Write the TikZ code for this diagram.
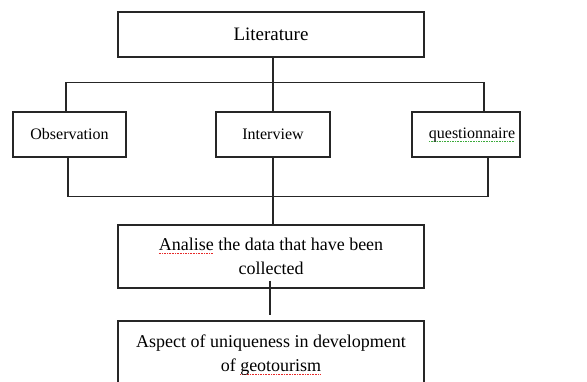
\documentclass[tikz,border=0pt]{standalone}
\usepackage{fontspec}
\setmainfont{Liberation Serif}
\definecolor{squigred}{RGB}{230,40,40}
\definecolor{squiggreen}{RGB}{60,170,60}
\newsavebox\mysqbox
\newcommand\mysq[2]{\sbox\mysqbox{#2}\rlap{\raisebox{-3.5pt}{\textcolor{#1}{\hbox to \wd\mysqbox{\xleaders\hbox{\rule{0.9pt}{0.7pt}\kern0.7pt}\hfill}}}}\usebox\mysqbox}
\begin{document}
\begin{tikzpicture}[x=1pt,y=-1pt,
  box/.style={draw=black!85, line width=1.2pt, inner sep=0pt, align=center},
  link/.style={draw=black!85, line width=1.2pt},
  bigtext/.style={font=\fontsize{18}{24}\selectfont},
  smalltext/.style={font=\fontsize{16}{19}\selectfont}]
\useasboundingbox (0,0) rectangle (587,382);
\node[box, minimum width=306pt, minimum height=45pt, font=\fontsize{19}{23}\selectfont] (lit) at (271,34.5) {Literature};
\node[box, smalltext, minimum width=113pt, minimum height=45pt] (obs) at (69.5,134.5) {Observation};
\node[box, smalltext, minimum width=114pt, minimum height=45pt] (int) at (273,134.5) {Interview};
\node[box, smalltext, minimum width=108pt, minimum height=45pt] (que) at (466,134.5) {\hspace*{12pt}\mysq{squiggreen}{questionnaire}};
\node[box, bigtext, minimum width=306pt, minimum height=63pt] (ana) at (271,256.5) {\mysq{squigred}{Analise} the data that have been\\collected};
\node[box, bigtext, minimum width=306pt, minimum height=68pt] (asp) at (271,355) {Aspect of uniqueness in development\\of \mysq{squigred}{geotourism}};
% top connectors
\draw[link] (int.north |- lit.south) -- (int.north);
\draw[link] ([xshift=-3.5pt]obs.north) -- ++(0,-29) -| ([xshift=18pt]que.north);
% bottom connectors
\draw[link] ([xshift=-1.5pt]obs.south) -- ++(0,39) -| ([xshift=22pt]que.south);
\draw[link] (int.south) -- (int.south |- ana.north);
\draw[link] ([xshift=-1pt,yshift=8pt]ana.south) -- ([xshift=-1pt,yshift=5pt]asp.north);
\end{tikzpicture}
\end{document}
